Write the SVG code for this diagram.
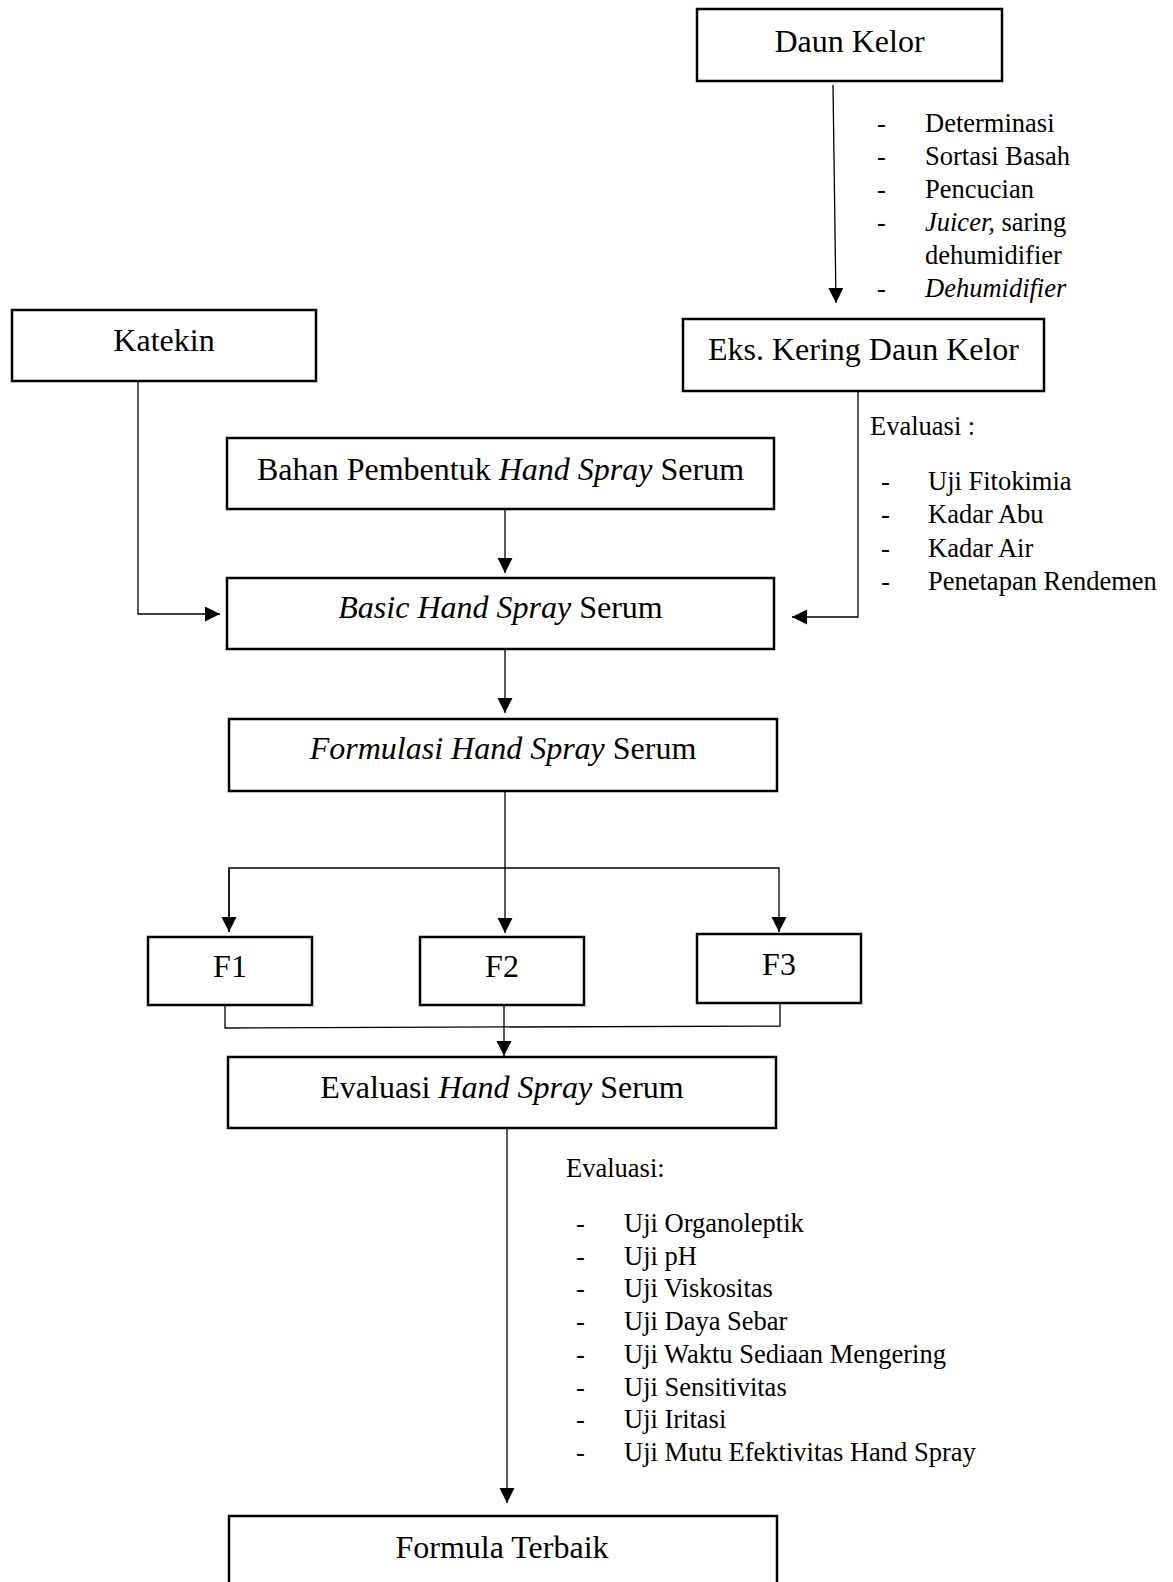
<svg xmlns="http://www.w3.org/2000/svg" width="1173" height="1582" viewBox="0 0 1173 1582">
<defs>
<style>
.box{fill:#fff;stroke:#000;stroke-width:2.5}
.lbl{font-family:"Liberation Serif","Times New Roman",serif;font-size:32px;fill:#000;text-anchor:middle}
.side{font-family:"Liberation Serif","Times New Roman",serif;font-size:26.5px;fill:#000}
.con{fill:none;stroke:#000;stroke-width:1.3}
.it{font-style:italic}
</style>
<marker id="ah" markerUnits="userSpaceOnUse" markerWidth="16" markerHeight="16" refX="15" refY="7.5" orient="auto">
<path d="M0,0 L15,7.5 L0,15 z" fill="#000"/>
</marker>
<clipPath id="clipList"><rect x="0" y="1100" width="1173" height="367"/></clipPath>
</defs>
<rect width="1173" height="1582" fill="#fff"/>

<g id="connectors">
<line class="con" x1="833" y1="85" x2="836" y2="303" marker-end="url(#ah)"/>
<polyline class="con" points="858,392 858,617 792,617" marker-end="url(#ah)"/>
<polyline class="con" points="138,382 138,614 220,614" marker-end="url(#ah)"/>
<line class="con" x1="505" y1="510" x2="505" y2="573" marker-end="url(#ah)"/>
<line class="con" x1="505" y1="649" x2="505" y2="713" marker-end="url(#ah)"/>
<line class="con" x1="505" y1="791" x2="505" y2="933" marker-end="url(#ah)"/>
<polyline class="con" points="229,932 229,868 779,868 779,932" marker-end="url(#ah)"/>
<line class="con" x1="229" y1="868" x2="229" y2="932" marker-end="url(#ah)"/>
<polyline class="con" points="225,1005 225,1028 780,1026 780,1003"/>
<line class="con" x1="504" y1="1005" x2="504" y2="1056" marker-end="url(#ah)"/>
<line class="con" x1="507" y1="1128" x2="507" y2="1503" marker-end="url(#ah)"/>
</g>

<g id="daun-kelor">
<rect class="box" x="697" y="9" width="305" height="72"/>
<text class="lbl" x="849.5" y="52">Daun Kelor</text>
</g>

<g id="eks-kering">
<rect class="box" x="683" y="319" width="361" height="72"/>
<text class="lbl" x="863.5" y="360">Eks. Kering Daun Kelor</text>
</g>

<g id="katekin">
<rect class="box" x="12" y="310" width="304" height="71"/>
<text class="lbl" x="164" y="351">Katekin</text>
</g>

<g id="bahan">
<rect class="box" x="227" y="438" width="547" height="71"/>
<text class="lbl" x="500.5" y="480">Bahan Pembentuk <tspan class="it">Hand Spray</tspan> Serum</text>
</g>

<g id="basic">
<rect class="box" x="227" y="578" width="547" height="71"/>
<text class="lbl" x="500.5" y="618"><tspan class="it">Basic Hand Spray</tspan> Serum</text>
</g>

<g id="formulasi">
<rect class="box" x="229" y="719" width="548" height="72"/>
<text class="lbl" x="503" y="759"><tspan class="it">Formulasi Hand Spray</tspan> Serum</text>
</g>

<g id="f1">
<rect class="box" x="148" y="937" width="164" height="68"/>
<text class="lbl" x="230" y="977">F1</text>
</g>
<g id="f2">
<rect class="box" x="420" y="937" width="164" height="68"/>
<text class="lbl" x="502" y="977">F2</text>
</g>
<g id="f3">
<rect class="box" x="697" y="934" width="164" height="69"/>
<text class="lbl" x="779" y="975">F3</text>
</g>

<g id="evaluasi">
<rect class="box" x="228" y="1057" width="548" height="71"/>
<text class="lbl" x="502" y="1098">Evaluasi <tspan class="it">Hand Spray</tspan> Serum</text>
</g>

<g id="formula-terbaik">
<rect class="box" x="229" y="1516" width="548" height="80"/>
<text class="lbl" x="502" y="1558">Formula Terbaik</text>
</g>

<g id="notes-daun">
<g class="side">
<text x="877" y="132">-</text><text x="925" y="132">Determinasi</text>
<text x="877" y="165">-</text><text x="925" y="165">Sortasi Basah</text>
<text x="877" y="198">-</text><text x="925" y="198">Pencucian</text>
<text x="877" y="231">-</text><text x="925" y="231"><tspan class="it">Juicer,</tspan> saring</text>
<text x="925" y="264">dehumidifier</text>
<text x="877" y="297">-</text><text x="925" y="297" class="it">Dehumidifier</text>
</g>
</g>

<g id="notes-eks">
<g class="side">
<text x="870" y="435">Evaluasi :</text>
<text x="881" y="490">-</text><text x="928" y="490">Uji Fitokimia</text>
<text x="881" y="523">-</text><text x="928" y="523">Kadar Abu</text>
<text x="881" y="557">-</text><text x="928" y="557">Kadar Air</text>
<text x="881" y="590">-</text><text x="928" y="590">Penetapan Rendemen</text>
</g>
</g>

<g id="notes-evaluasi">
<g class="side" clip-path="url(#clipList)">
<text x="566" y="1177">Evaluasi:</text>
<text x="576" y="1232">-</text><text x="624" y="1232">Uji Organoleptik</text>
<text x="576" y="1265">-</text><text x="624" y="1265">Uji pH</text>
<text x="576" y="1297">-</text><text x="624" y="1297">Uji Viskositas</text>
<text x="576" y="1330">-</text><text x="624" y="1330">Uji Daya Sebar</text>
<text x="576" y="1363">-</text><text x="624" y="1363">Uji Waktu Sediaan Mengering</text>
<text x="576" y="1396">-</text><text x="624" y="1396">Uji Sensitivitas</text>
<text x="576" y="1428">-</text><text x="624" y="1428">Uji Iritasi</text>
<text x="576" y="1461">-</text><text x="624" y="1461">Uji Mutu Efektivitas Hand Spray</text>
</g>
</g>
</svg>
